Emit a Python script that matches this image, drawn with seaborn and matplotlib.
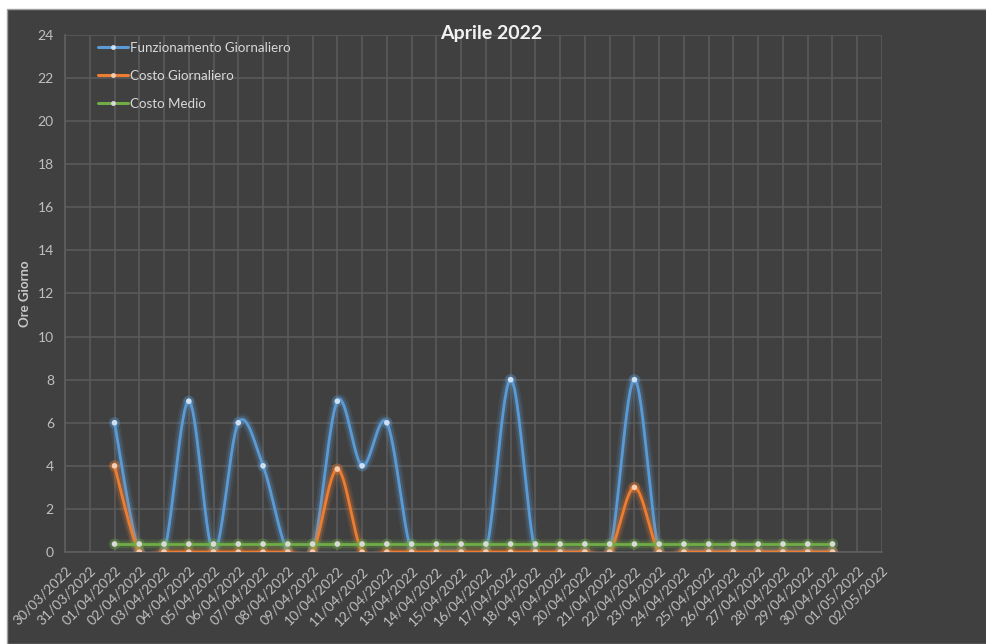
import numpy as np
import pandas as pd
import seaborn as sns
import matplotlib
matplotlib.use("Agg")
import matplotlib.pyplot as plt
import matplotlib.dates as mdates
import matplotlib.patheffects as pe
from matplotlib.patches import Rectangle
from matplotlib.lines import Line2D

# data (01/04/2022 .. 30/04/2022)
giorni = pd.date_range("2022-04-01", "2022-04-30", freq="D")
funzionamento = [6, 0, 0, 7, 0, 6, 4, 0, 0, 7, 4, 6, 0, 0, 0, 0, 8, 0, 0, 0, 0, 8,
                 0, 0, 0, 0, 0, 0, 0, 0]
costo_giornaliero = [4, 0, 0, 0, 0, 0, 0, 0, 0, 3.85, 0, 0, 0, 0, 0, 0, 0, 0, 0, 0,
                     0, 3, 0, 0, 0, 0, 0, 0, 0, 0]
costo_medio = [0.37] * 30

x_start = pd.Timestamp("2022-03-30")
x_end = pd.Timestamp("2022-05-02")

BG = "#404040"
GRID = "#5a5a5a"
TXT = "#bfbfbf"
BLUE = "#5B9BD5"
ORANGE = "#ED7D31"
GREEN = "#70AD47"


def smooth(xs, ys, n=30):
    # bezier smoothing between points, like a spreadsheet "smoothed line"
    xs = np.asarray(xs, float)
    ys = np.asarray(ys, float)
    px, py = [], []
    k = len(xs)
    for i in range(k - 1):
        x0, y0 = (xs[i - 1], ys[i - 1]) if i > 0 else (xs[i], ys[i])
        x3, y3 = (xs[i + 2], ys[i + 2]) if i + 2 < k else (xs[i + 1], ys[i + 1])
        c1x = xs[i] + (xs[i + 1] - x0) / 6
        c1y = ys[i] + (ys[i + 1] - y0) / 6
        c2x = xs[i + 1] - (x3 - xs[i]) / 6
        c2y = ys[i + 1] - (y3 - ys[i]) / 6
        t = np.linspace(0, 1, n)
        bx = (1 - t) ** 3 * xs[i] + 3 * (1 - t) ** 2 * t * c1x + 3 * (1 - t) * t ** 2 * c2x + t ** 3 * xs[i + 1]
        by = (1 - t) ** 3 * ys[i] + 3 * (1 - t) ** 2 * t * c1y + 3 * (1 - t) * t ** 2 * c2y + t ** 3 * ys[i + 1]
        px.extend(bx)
        py.extend(by)
    return mdates.num2date(px), py


sns.set_theme(style="dark")
plt.rcParams["font.family"] = ["Lato", "DejaVu Sans"]

fig = plt.figure(figsize=(9.86, 6.44), dpi=100, facecolor="white")
fig.patches.append(Rectangle((7 / 986, 0), 1, 1 - 9 / 644, transform=fig.transFigure,
                             facecolor=BG, edgecolor="#a0a0a0", linewidth=1, zorder=-10))
ax = fig.add_axes([65 / 986, 1 - 552 / 644, (882 - 65) / 986, (552 - 35) / 644])
ax.set_zorder(1)
ax.set_facecolor(BG)

series = [
    ("Funzionamento Giornaliero", funzionamento, BLUE, "#cfe0f2"),
    ("Costo Giornaliero", costo_giornaliero, ORANGE, "#f6cdb0"),
    ("Costo Medio", costo_medio, GREEN, "#d9d9d9"),
]

xnum = mdates.date2num(giorni)
for z, (name, vals, col, mcol) in enumerate(series):
    if name == "Costo Medio":
        lx, ly = list(giorni), vals
    else:
        lx, ly = smooth(xnum, vals)
    glow = [pe.Stroke(linewidth=8, foreground=col, alpha=0.12),
            pe.Stroke(linewidth=5, foreground=col, alpha=0.22), pe.Normal()]
    sns.lineplot(x=lx, y=ly, ax=ax, color=col, linewidth=2.0, sort=False,
                 estimator=None, zorder=3 + z, path_effects=glow)
    sns.scatterplot(x=giorni, y=vals, ax=ax, color=mcol, s=16, linewidth=0,
                    zorder=3.5 + z,
                    path_effects=[pe.Stroke(linewidth=4, foreground=col, alpha=0.3), pe.Normal()])

ax.set_xlim(x_start, x_end)
ax.set_ylim(0, 24)
ax.set_yticks(range(0, 25, 2))
ax.xaxis.set_major_locator(mdates.DayLocator())
ax.xaxis.set_major_formatter(mdates.DateFormatter("%d/%m/%Y"))
ax.grid(True, color=GRID, linewidth=1.2)
ax.set_axisbelow(True)
for s in ["top", "right"]:
    ax.spines[s].set_visible(False)
for s in ["left", "bottom"]:
    ax.spines[s].set_color("#5f5f5f")
    ax.spines[s].set_linewidth(1.2)

ax.tick_params(axis="both", length=0, colors=TXT, labelsize=10)
ax.tick_params(axis="y", pad=8)
ax.tick_params(axis="x", pad=9)
plt.setp(ax.get_xticklabels(), rotation=45, ha="right", rotation_mode="anchor")

ax.set_xlabel("")
ax.set_ylabel("Ore Giorno", color="#c8c8c8", fontsize=9.5, fontweight="bold", labelpad=5)
fig.text(0.498, 1 - 34 / 644, "Aprile 2022", color="#f2f2f2", fontsize=14,
         fontweight="bold", ha="center", va="center")

handles = [Line2D([0], [0], color=col, linewidth=2.2, marker="o", markersize=3.5,
                  markerfacecolor=mcol, markeredgewidth=0) for _, _, col, mcol in series]
leg = ax.legend(handles, [s[0] for s in series], loc="upper left",
                bbox_to_anchor=(0.026, 1.01), frameon=False, fontsize=9.6,
                labelcolor="#d9d9d9", handlelength=2.2, handletextpad=0.2,
                labelspacing=1.2)

fig.savefig("out.png", dpi=100, facecolor=fig.get_facecolor())
